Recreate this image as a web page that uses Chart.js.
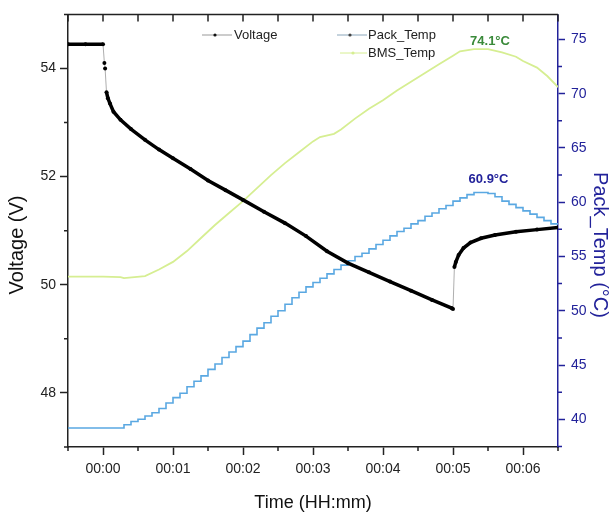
<!DOCTYPE html>
<html>
<head>
<meta charset="utf-8">
<script src="https://cdn.jsdelivr.net/npm/chart.js@4.4.1/dist/chart.umd.min.js"></script>
<style>
  html, body { margin: 0; padding: 0; background: #fff; }
</style>
</head>
<body>
<canvas id="chart" width="616" height="517"></canvas>
<script>
// time axis is in minutes from the start of discharge
const voltTime = [-0.5, -0.25, 0, 0.02, 0.03, 0.05, 0.07, 0.1, 0.15, 0.25, 0.4, 0.6, 0.8, 1.0, 1.25, 1.5, 1.75, 2.0,
  2.3, 2.6, 2.9, 3.2, 3.5, 3.8, 4.1, 4.4, 4.7, 4.98, 5.0, 5.02, 5.04, 5.08, 5.15, 5.25, 5.4, 5.6, 5.9, 6.2, 6.5];
const voltage = [54.45, 54.45, 54.45, 54.1, 54.0, 53.56, 53.45, 53.35, 53.2, 53.05, 52.88, 52.68, 52.5, 52.34, 52.14, 51.93, 51.75, 51.57,
  51.35, 51.14, 50.9, 50.62, 50.4, 50.23, 50.06, 49.89, 49.72, 49.57, 49.55, 50.33, 50.42, 50.55, 50.68, 50.78, 50.86, 50.92, 50.98, 51.02, 51.06];

const packTime = [-0.5, 0.3, 0.4, 0.5, 0.6, 0.7, 0.8, 0.9, 1.0, 1.1, 1.2, 1.3, 1.4, 1.5, 1.6, 1.7, 1.8, 1.9, 2.0,
  2.1, 2.2, 2.3, 2.4, 2.5, 2.6, 2.7, 2.8, 2.9, 3.0, 3.1, 3.2, 3.3, 3.4, 3.5, 3.6, 3.7, 3.8, 3.9, 4.0,
  4.1, 4.2, 4.3, 4.4, 4.5, 4.6, 4.7, 4.8, 4.9, 5.0, 5.1, 5.2, 5.3, 5.4, 5.5, 5.6, 5.7, 5.8, 5.9, 6.0,
  6.1, 6.2, 6.3, 6.4, 6.5];
const packTemp = [39.2, 39.2, 39.5, 39.8, 40.0, 40.3, 40.6, 41.0, 41.5, 42.0, 42.4, 43.0, 43.5, 44.0, 44.6, 45.1, 45.7, 46.2, 46.7,
  47.2, 47.8, 48.4, 48.9, 49.5, 50.0, 50.6, 51.2, 51.7, 52.2, 52.6, 53.0, 53.4, 53.8, 54.2, 54.6, 55.0, 55.3, 55.7, 56.1,
  56.5, 56.9, 57.3, 57.6, 58.0, 58.3, 58.7, 59.0, 59.4, 59.7, 60.1, 60.4, 60.7, 60.9, 60.9, 60.8, 60.5, 60.1, 59.8, 59.5,
  59.2, 58.9, 58.6, 58.3, 58.0];

const bmsTime = [-0.5, 0, 0.25, 0.3, 0.45, 0.6, 0.8, 1.0, 1.2, 1.4, 1.6, 1.8, 2.0, 2.2, 2.4, 2.6, 2.8, 3.0, 3.1, 3.3, 3.4,
  3.6, 3.8, 4.0, 4.2, 4.4, 4.6, 4.8, 5.0, 5.1, 5.3, 5.5, 5.7, 5.9, 6.0, 6.2, 6.35, 6.5];
const bmsTemp = [53.15, 53.15, 53.1, 53.0, 53.1, 53.2, 53.8, 54.5, 55.5, 56.7, 57.9, 59.0, 60.1, 61.3, 62.5, 63.6, 64.6, 65.6, 66.0, 66.3, 66.7,
  67.7, 68.6, 69.4, 70.3, 71.1, 71.9, 72.7, 73.5, 73.9, 74.1, 74.1, 73.8, 73.4, 73.0, 72.4, 71.6, 70.6];

const timeLabels = ['00:00', '00:01', '00:02', '00:03', '00:04', '00:05', '00:06'];
const voltLabels = [48, 50, 52, 54];
const tempLabels = [40, 45, 50, 55, 60, 65, 70, 75];

const FONT = "'Liberation Sans', Arial, sans-serif";
const BLUE = '#22229a';
const PACK_COLOR = '#5aa8e2';
const BMS_COLOR = '#d6ee92';

const toXY = (xs, ys) => xs.map((x, i) => ({ x: x, y: ys[i] }));

// short minor ticks, the top frame and the text that sits inside the plot
const decorations = {
  id: 'decorations',
  afterDraw(chart) {
    const ctx = chart.ctx;
    const { left, right, top, bottom } = chart.chartArea;
    const x = chart.scales.x, y = chart.scales.y, y1 = chart.scales.y1;
    ctx.save();

    // top frame with inward ticks
    ctx.strokeStyle = '#222';
    ctx.lineWidth = 1.5;
    ctx.beginPath();
    ctx.moveTo(left, top);
    ctx.lineTo(right, top);
    x.ticks.forEach(t => {
      const px = x.getPixelForValue(t.value);
      ctx.moveTo(px, top);
      ctx.lineTo(px, top + 7);
    });
    // minor ticks on bottom and left axes
    x.ticks.filter(t => !Number.isInteger(t.value)).forEach(t => {
      const px = x.getPixelForValue(t.value);
      ctx.moveTo(px, bottom);
      ctx.lineTo(px, bottom + 4);
    });
    y.ticks.filter(t => !voltLabels.includes(t.value)).forEach(t => {
      const py = y.getPixelForValue(t.value);
      ctx.moveTo(left, py);
      ctx.lineTo(left - 4, py);
    });
    ctx.stroke();

    ctx.strokeStyle = BLUE;
    ctx.beginPath();
    y1.ticks.filter(t => !tempLabels.includes(t.value)).forEach(t => {
      const py = y1.getPixelForValue(t.value);
      ctx.moveTo(right, py);
      ctx.lineTo(right + 4, py);
    });
    ctx.stroke();

    // legend
    const legend = [
      { label: 'Voltage', x: 202, y: 35, color: '#999', dot: '#111' },
      { label: 'Pack_Temp', x: 337, y: 35, color: '#8aa6bb', dot: '#444' },
      { label: 'BMS_Temp', x: 340, y: 53, color: BMS_COLOR, dot: BMS_COLOR }
    ];
    ctx.font = '13px ' + FONT;
    ctx.textBaseline = 'middle';
    ctx.textAlign = 'left';
    legend.forEach(item => {
      ctx.strokeStyle = item.color;
      ctx.lineWidth = 1;
      ctx.beginPath();
      ctx.moveTo(item.x, item.y);
      ctx.lineTo(item.x + 30 - (item.x - 337 > 0 ? 3 : 0), item.y);
      ctx.stroke();
      ctx.fillStyle = item.dot;
      ctx.beginPath();
      ctx.arc(item.x + 13, item.y, 1.6, 0, Math.PI * 2);
      ctx.fill();
      ctx.fillStyle = '#222';
      ctx.fillText(item.label, item.x + (item.label === 'Voltage' ? 32 : (item.label === 'Pack_Temp' ? 31 : 28)), item.y);
    });

    // peak temperature labels
    const peakLabel = (xs, ys, color, dx, dy) => {
      const peak = Math.max(...ys);
      const first = ys.indexOf(peak), last = ys.lastIndexOf(peak);
      const px = y1.chart.scales.x.getPixelForValue((xs[first] + xs[last]) / 2);
      const py = y1.getPixelForValue(peak);
      ctx.fillStyle = color;
      ctx.font = 'bold 13px ' + FONT;
      ctx.textAlign = 'center';
      ctx.textBaseline = 'middle';
      ctx.fillText(peak.toFixed(1) + '°C', px + dx, py + dy);
    };
    peakLabel(bmsTime, bmsTemp, '#3a8a3a', 9, -8);
    peakLabel(packTime, packTemp, BLUE, 4, -13);

    // vertical axis titles
    ctx.font = '20px ' + FONT;
    ctx.textAlign = 'center';
    ctx.textBaseline = 'middle';
    ctx.fillStyle = '#111';
    ctx.save();
    ctx.translate(17, 245);
    ctx.rotate(-Math.PI / 2);
    ctx.fillText('Voltage (V)', 0, 0);
    ctx.restore();
    ctx.fillStyle = BLUE;
    ctx.save();
    ctx.translate(600, 245);
    ctx.rotate(Math.PI / 2);
    ctx.fillText('Pack_Temp (°C)', 0, 0);
    ctx.restore();

    ctx.restore();
  }
};

const steep = c => Math.abs(c.p1.parsed.y - c.p0.parsed.y) / Math.max(c.p1.parsed.x - c.p0.parsed.x, 1e-6) > 8;

new Chart(document.getElementById('chart'), {
  type: 'line',
  data: {
    datasets: [
      {
        label: 'Voltage',
        data: toXY(voltTime, voltage),
        yAxisID: 'y',
        borderColor: '#000',
        borderWidth: 3.5,
        pointRadius: 2,
        pointBackgroundColor: '#000',
        pointBorderWidth: 0,
        segment: {
          borderWidth: c => steep(c) ? 0.8 : 3.5,
          borderColor: c => steep(c) ? '#999' : '#000'
        }
      },
      {
        label: 'Pack_Temp',
        data: toXY(packTime, packTemp),
        yAxisID: 'y1',
        stepped: 'after',
        borderColor: PACK_COLOR,
        borderWidth: 1.6,
        pointRadius: 0
      },
      {
        label: 'BMS_Temp',
        data: toXY(bmsTime, bmsTemp),
        yAxisID: 'y1',
        borderColor: BMS_COLOR,
        borderWidth: 1.8,
        pointRadius: 0
      }
    ]
  },
  options: {
    responsive: false,
    animation: false,
    layout: { padding: { top: 10, left: 0, right: 0, bottom: 0 } },
    plugins: { legend: { display: false }, tooltip: { enabled: false } },
    scales: {
      x: {
        type: 'linear',
        min: -0.5,
        max: 6.5,
        afterFit: s => { s.height = 70; },
        border: { color: '#222', width: 1.5 },
        grid: {
          drawOnChartArea: false,
          tickLength: 8,
          tickWidth: 1.5,
          tickColor: c => Number.isInteger(c.tick.value) ? '#222' : 'rgba(0,0,0,0)'
        },
        ticks: {
          stepSize: 0.5,
          autoSkip: false,
          maxRotation: 0,
          minRotation: 0,
          padding: 6,
          color: '#222',
          font: { family: FONT, size: 14 },
          callback: v => (Number.isInteger(v) && v >= 0) ? timeLabels[v] : ''
        },
        title: {
          display: true,
          text: 'Time (HH:mm)',
          color: '#111',
          font: { family: FONT, size: 18 },
          padding: { top: 0, bottom: 3 }
        }
      },
      y: {
        position: 'left',
        min: 47,
        max: 55,
        afterFit: s => { s.width = 68; },
        border: { color: '#222', width: 1.5 },
        grid: {
          drawOnChartArea: false,
          tickLength: 8,
          tickWidth: 1.5,
          tickColor: c => voltLabels.includes(c.tick.value) ? '#222' : 'rgba(0,0,0,0)'
        },
        ticks: {
          stepSize: 1,
          autoSkip: false,
          padding: 4,
          color: '#222',
          font: { family: FONT, size: 14 },
          callback: v => voltLabels.includes(v) ? String(v) : ''
        }
      },
      y1: {
        position: 'right',
        min: 37.45,
        max: 77.3,
        afterFit: s => { s.width = 58; },
        border: { color: BLUE, width: 1.5 },
        grid: {
          drawOnChartArea: false,
          tickLength: 7,
          tickWidth: 1.5,
          tickColor: c => tempLabels.includes(c.tick.value) ? BLUE : 'rgba(0,0,0,0)'
        },
        ticks: {
          stepSize: 2.5,
          includeBounds: false,
          autoSkip: false,
          padding: 6,
          color: BLUE,
          font: { family: FONT, size: 14 },
          callback: v => tempLabels.includes(v) ? String(v) : ''
        }
      }
    }
  },
  plugins: [decorations]
});
</script>
</body>
</html>
